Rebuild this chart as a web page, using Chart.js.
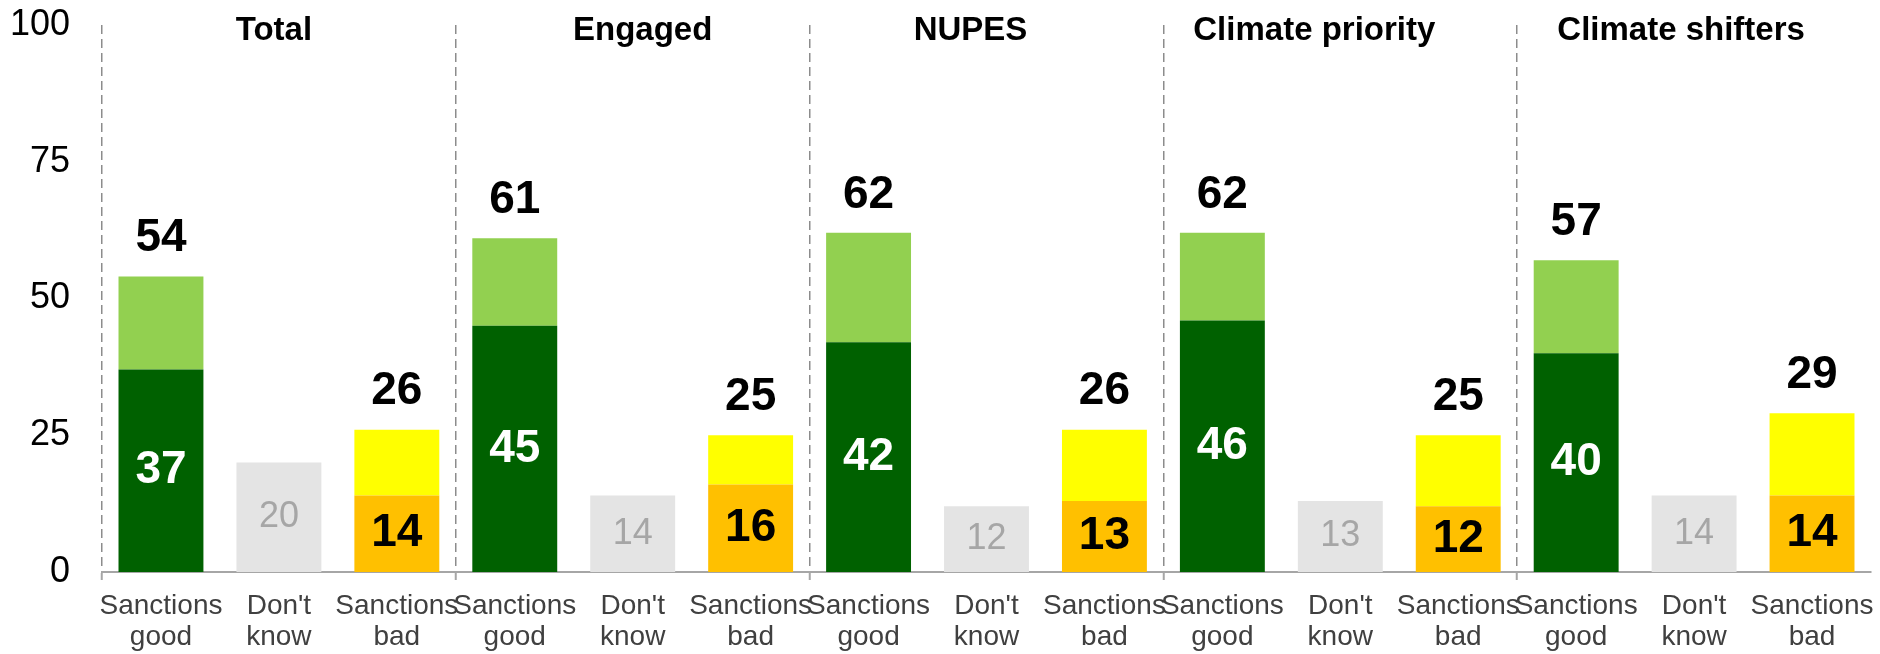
<!DOCTYPE html>
<html>
<head>
<meta charset="utf-8">
<script src="https://cdn.jsdelivr.net/npm/chart.js@4/dist/chart.umd.min.js"></script>
<style>
  html, body { margin: 0; padding: 0; background: #fff; }
  #wrap { width: 1880px; height: 654px; }
</style>
</head>
<body>
<div id="wrap"><canvas id="chart"></canvas></div>
<script>
var groups = ['Total', 'Engaged', 'NUPES', 'Climate priority', 'Climate shifters'];
var answers = [['Sanctions', 'good'], ["Don't", 'know'], ['Sanctions', 'bad']];

// per group: [sanctions good (strong), don't know, sanctions bad (strong)]
var strongValues = [37, 20, 14, 45, 14, 16, 42, 12, 13, 46, 13, 12, 40, 14, 14];
// totals shown above the bars (good / bad); don't know has no extra part
var totalValues = [54, 20, 26, 61, 14, 25, 62, 12, 26, 62, 13, 25, 57, 14, 29];
var yTicks = [0, 25, 50, 75, 100];

var labels = [];
groups.forEach(function () { answers.forEach(function (a) { labels.push(a); }); });
var weakValues = totalValues.map(function (t, i) { return t - strongValues[i]; });

var strongColors = [], weakColors = [];
for (var i = 0; i < labels.length; i++) {
  var k = i % 3;
  strongColors.push(k == 0 ? '#006100' : k == 1 ? '#E4E4E4' : '#FFC000');
  weakColors.push(k == 0 ? '#92D050' : k == 1 ? '#E4E4E4' : '#FFFF00');
}

var FONT = '"Liberation Sans", Arial, sans-serif';

var labelPlugin = {
  id: 'barLabels',
  afterDatasetsDraw: function (chart) {
    var ctx = chart.ctx;
    var bottom = chart.getDatasetMeta(0).data;
    var top = chart.getDatasetMeta(1).data;
    ctx.save();
    ctx.textAlign = 'center';
    ctx.textBaseline = 'middle';
    for (var i = 0; i < bottom.length; i++) {
      var b = bottom[i], k = i % 3;
      var midY = (b.y + b.base) / 2;
      if (k == 1) {
        ctx.font = '36px ' + FONT;
        ctx.fillStyle = '#A6A6A6';
        ctx.fillText(strongValues[i], b.x, midY);
        continue;
      }
      ctx.font = 'bold 46px ' + FONT;
      ctx.fillStyle = k == 0 ? '#FFFFFF' : '#000000';
      ctx.fillText(strongValues[i], b.x, midY);
      ctx.fillStyle = '#000000';
      ctx.fillText(totalValues[i], top[i].x, top[i].y - 38);
    }
    // group titles
    var xs = chart.scales.x;
    var offs = [-5, 10, -16, -26, -13];
    ctx.font = 'bold 33px ' + FONT;
    groups.forEach(function (g, gi) {
      var cx = xs.getPixelForValue(gi * 3 + 1);
      ctx.fillText(g, cx + offs[gi], chart.chartArea.top + 6);
    });
    ctx.restore();
  }
};

new Chart(document.getElementById('chart'), {
  type: 'bar',
  data: {
    labels: labels,
    datasets: [
      { label: 'strong', data: strongValues, backgroundColor: strongColors },
      { label: 'weak', data: weakValues, backgroundColor: weakColors }
    ]
  },
  options: {
    responsive: true,
    maintainAspectRatio: false,
    animation: false,
    layout: { padding: { left: 0, right: 9, top: 25, bottom: 0 } },
    datasets: { bar: { categoryPercentage: 1, barPercentage: 0.72 } },
    plugins: { legend: { display: false }, tooltip: { enabled: false } },
    scales: {
      x: {
        stacked: true,
        afterFit: function (s) { s.height = 82; s.paddingLeft = 0; s.paddingRight = 0; },
        grid: {
          offset: true,
          lineWidth: 1.5,
          color: function (c) { return c.index % 3 == 0 ? '#8C8C8C' : 'rgba(0,0,0,0)'; },
          tickColor: function (c) { return c.index % 3 == 0 ? '#A6A6A6' : 'rgba(0,0,0,0)'; },
          tickLength: 8,
          tickWidth: 2
        },
        border: { display: true, color: '#A6A6A6', width: 2, dash: [9, 5] },
        ticks: {
          padding: 11,
          maxRotation: 0,
          autoSkip: false,
          color: '#404040',
          font: { family: FONT, size: 28, lineHeight: 1.1 }
        }
      },
      y: {
        stacked: true,
        min: 0,
        max: 100,
        afterFit: function (s) { s.width = 102; s.paddingTop = 0; s.paddingBottom = 0; },
        afterBuildTicks: function (s) { s.ticks = yTicks.map(function (v) { return { value: v }; }); },
        grid: { display: false, drawTicks: false },
        border: { display: false },
        ticks: {
          padding: 32,
          color: '#000000',
          font: { family: FONT, size: 36 }
        }
      }
    }
  },
  plugins: [labelPlugin]
});
</script>
</body>
</html>
